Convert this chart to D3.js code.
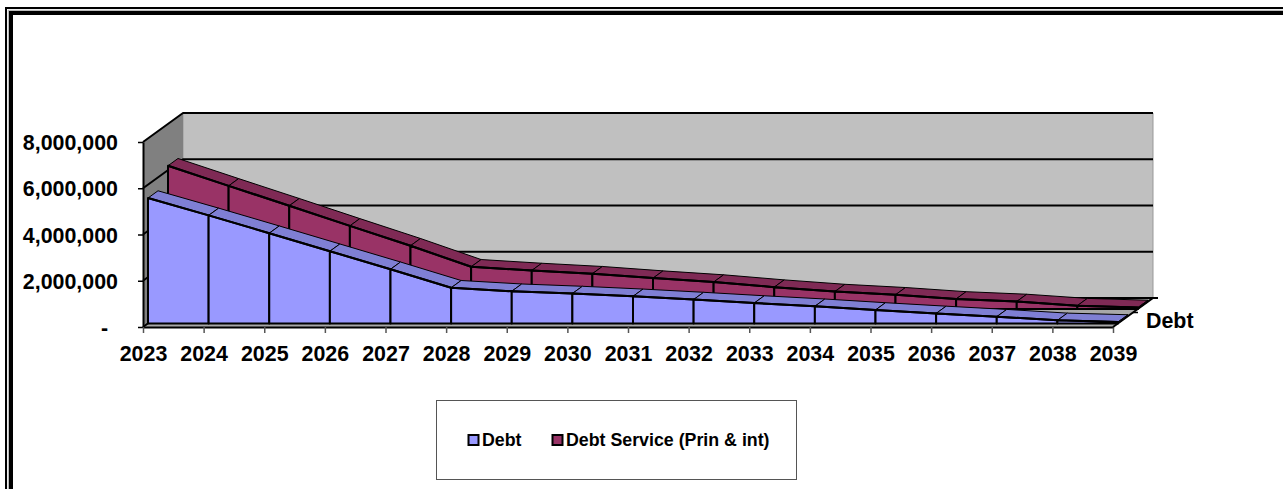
<!DOCTYPE html>
<html>
<head>
<meta charset="utf-8">
<script src="https://cdn.jsdelivr.net/npm/d3@7"></script>
<style>
  body { margin: 0; background: #fff; }
  svg { display: block; }
  text { font-family: "Liberation Sans", Arial, sans-serif; font-weight: bold; fill: #000; }
</style>
</head>
<body>
<svg id="chart" width="1283" height="489"></svg>
<script>
const years = ['2023', '2024', '2025', '2026', '2027', '2028', '2029', '2030', '2031',
  '2032', '2033', '2034', '2035', '2036', '2037', '2038', '2039'];
const debt = [5420000, 4670000, 3900000, 3120000, 2340000, 1540000, 1390000, 1290000, 1170000,
  1030000, 880000, 740000, 580000, 430000, 290000, 130000, 60000];
const debtService = [6190000, 5320000, 4460000, 3590000, 2730000, 1820000, 1660000, 1520000, 1330000,
  1160000, 940000, 750000, 610000, 430000, 320000, 140000, 60000];
const yTicks = [0, 2000000, 4000000, 6000000, 8000000];

const svg = d3.select('#chart');

// double frame round the sheet, runs off the right and bottom of the picture
const frame = svg.append('g').attr('fill', 'none');
frame.append('path').attr('d', 'M6,489V8H1283').attr('stroke', '#000').attr('stroke-width', 2);
frame.append('path').attr('d', 'M8.5,489V10.5H1283').attr('stroke', '#bbb').attr('stroke-width', 1.5);
frame.append('path').attr('d', 'M11,489V13H1283').attr('stroke', '#000').attr('stroke-width', 4);

// front plane of the 3d box, depth is a 0..1 shift towards the back wall
const x = d3.scalePoint().domain(years).range([143, 1113]);
const y = d3.scaleLinear().domain([0, 8000000]).range([327, 142]);
const depthX = d3.scaleLinear().domain([0, 1]).range([0, 40]);
const depthY = d3.scaleLinear().domain([0, 1]).range([0, -29]);

const px = (year, z) => x(year) + depthX(z);
const py = (val, z) => y(val) + depthY(z);
const poly = pts => 'M' + pts.map(p => p.join(',')).join('L') + 'Z';

const first = years[0];
const last = years[years.length - 1];

// walls and floor
const box = svg.append('g').attr('stroke-linejoin', 'round');
box.append('path')
  .attr('d', poly([[px(first, 1), py(8000000, 1)], [px(last, 1), py(8000000, 1)], [px(last, 1), py(0, 1)], [px(first, 1), py(0, 1)]]))
  .attr('fill', '#c0c0c0').attr('stroke', '#999').attr('stroke-width', 1);
box.append('path')
  .attr('d', poly([[px(first, 0), py(8000000, 0)], [px(first, 1), py(8000000, 1)], [px(first, 1), py(0, 1)], [px(first, 0), py(0, 0)]]))
  .attr('fill', '#808080');
box.append('path')
  .attr('d', poly([[px(first, 0), py(0, 0)], [px(first, 1), py(0, 1)], [px(last, 1), py(0, 1)], [px(last, 0), py(0, 0)]]))
  .attr('fill', '#a8a8a8');

// gridlines on back and left wall
yTicks.forEach(t => {
  box.append('path')
    .attr('d', `M${px(first, 0)},${py(t, 0)}L${px(first, 1)},${py(t, 1)}L${px(last, 1)},${py(t, 1)}`)
    .attr('fill', 'none').attr('stroke', '#000').attr('stroke-width', 2);
});

function drawSeries(values, zFront, zBack, frontColor, topColor) {
  const g = svg.append('g').attr('stroke', '#000').attr('stroke-linejoin', 'round');
  const edge = z => (d, i) => [px(years[i], z), py(d, z)];

  // top faces
  g.selectAll('.top').data(values.slice(0, -1)).enter().append('path')
    .attr('class', 'top')
    .attr('d', (d, i) => poly([
      [px(years[i], zFront), py(d, zFront)],
      [px(years[i], zBack), py(d, zBack)],
      [px(years[i + 1], zBack), py(values[i + 1], zBack)],
      [px(years[i + 1], zFront), py(values[i + 1], zFront)]
    ]))
    .attr('fill', topColor).attr('stroke-width', 1);

  // end cap on the right
  const n = values.length - 1;
  g.append('path')
    .attr('d', poly([
      [px(last, zFront), py(values[n], zFront)],
      [px(last, zBack), py(values[n], zBack)],
      [px(last, zBack), py(0, zBack)],
      [px(last, zFront), py(0, zFront)]
    ]))
    .attr('fill', topColor).attr('stroke-width', 1);

  // front face, one panel per year so the drop lines come out
  g.selectAll('.front').data(values.slice(0, -1)).enter().append('path')
    .attr('class', 'front')
    .attr('d', (d, i) => poly([
      [px(years[i], zFront), py(0, zFront)],
      [px(years[i], zFront), py(d, zFront)],
      [px(years[i + 1], zFront), py(values[i + 1], zFront)],
      [px(years[i + 1], zFront), py(0, zFront)]
    ]))
    .attr('fill', frontColor).attr('stroke-width', 2);

  g.append('path')
    .attr('d', d3.line()(values.map(edge(zFront))))
    .attr('fill', 'none').attr('stroke-width', 2);
}

drawSeries(debtService, 0.625, 0.875, '#993366', '#7f2a55');
drawSeries(debt, 0.125, 0.375, '#9999ff', '#7f7fd4');

// axes
const yAxis = d3.axisLeft(y)
  .tickValues(yTicks)
  .tickSize(5)
  .tickSizeOuter(0)
  .tickPadding(20)
  .tickFormat(d => d === 0 ? '-' : d3.format(',')(d));
const yG = svg.append('g').attr('transform', 'translate(143,0)').call(yAxis);
yG.select('.domain').attr('stroke', '#000').attr('stroke-width', 2);
yG.selectAll('.tick line').attr('stroke', '#000').attr('stroke-width', 1.5);
yG.selectAll('.tick text').attr('font-size', 21.4).attr('x', -25).attr('dy', '0.35em')
  .filter(d => d === 0).attr('x', -35);

const xAxis = d3.axisBottom(x).tickSize(6).tickSizeOuter(0).tickPadding(13);
const xG = svg.append('g').attr('transform', 'translate(0,327)').call(xAxis);
xG.select('.domain').attr('stroke', '#000').attr('stroke-width', 2);
xG.selectAll('.tick line').attr('stroke', '#555').attr('stroke-width', 1.5);
xG.selectAll('.tick text').attr('font-size', 21.4);

// depth axis on the right edge of the floor
const floorEdge = svg.append('g').attr('stroke', '#000').attr('fill', 'none');
floorEdge.append('path')
  .attr('d', `M${px(last, 0)},${py(0, 0)}L${px(last, 1)},${py(0, 1)}h5`).attr('stroke-width', 2);
floorEdge.append('path')
  .attr('d', `M${px(last, 0.5)},${py(0, 0.5)}h5`).attr('stroke-width', 1.5);
svg.append('text').attr('x', 1146).attr('y', 328).attr('font-size', 21.4).text('Debt');

// legend
const legend = svg.append('g');
legend.append('rect').attr('x', 436.5).attr('y', 400.5).attr('width', 360).attr('height', 79)
  .attr('fill', '#fff').attr('stroke', '#555').attr('stroke-width', 1);
const legendItems = [['Debt', '#9999ff', 468], ['Debt Service (Prin & int)', '#993366', 552]];
legendItems.forEach(([label, color, lx]) => {
  legend.append('rect').attr('x', lx + 0.5).attr('y', 435).attr('width', 10).attr('height', 10)
    .attr('fill', color).attr('stroke', '#000').attr('stroke-width', 2);
  legend.append('text').attr('x', lx + 14).attr('y', 445.5).attr('font-size', 17.8).text(label);
});
</script>
</body>
</html>
